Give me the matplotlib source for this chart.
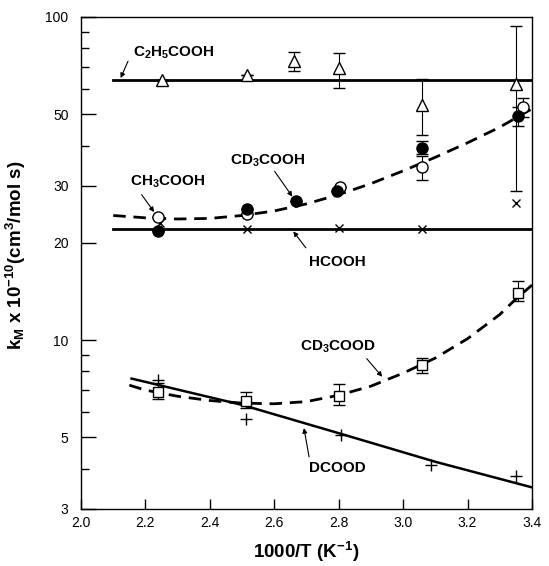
import matplotlib
matplotlib.use("Agg")
import matplotlib.pyplot as plt
from matplotlib.ticker import FixedLocator, NullFormatter, FixedFormatter

plt.rcParams['font.family'] = ['Liberation Sans', 'DejaVu Sans']
plt.rcParams['mathtext.fontset'] = 'custom'
plt.rcParams['mathtext.rm'] = 'Liberation Sans:bold'
plt.rcParams['mathtext.bf'] = 'Liberation Sans:bold'
plt.rcParams['mathtext.default'] = 'regular'

# ---- data ----
# C2H5COOH (open triangles)
c2_x = [2.25, 2.516, 2.662, 2.80, 3.057, 3.351]
c2_y = [64.0, 66.1, 73.0, 69.5, 53.5, 62.0]
c2_lo = [0, 0, 5.0, 9.3, 10.5, 33.1]
c2_hi = [0, 0, 4.9, 7.8, 11.0, 31.8]
c2_fit_x = [2.1, 3.4]
c2_fit_y = [63.7, 63.7]

# CH3COOH (open circles)
ch3_x = [2.24, 2.516, 2.805, 3.06, 3.373]
ch3_y = [24.1, 24.5, 29.7, 34.3, 52.6]
ch3_lo = [0, 0, 0, 2.9, 3.5]
ch3_hi = [0, 0, 0, 2.8, 3.4]

# CD3COOH (filled circles)
cd3h_x = [2.24, 2.516, 2.668, 2.796, 3.059, 3.358]
cd3h_y = [21.7, 25.5, 26.9, 28.9, 39.3, 49.4]
cd3h_lo = [0, 0, 0, 0, 1.5, 3.4]
cd3h_hi = [0, 0, 0, 0, 2.0, 3.4]

# dashed fit through CH3COOH / CD3COOH
acid_fit_x = [2.1, 2.2, 2.3, 2.4, 2.5, 2.6, 2.7, 2.8, 2.9, 3.0, 3.1, 3.2, 3.3, 3.4]
acid_fit_y = [24.3, 23.9, 23.7, 23.8, 24.3, 25.1, 26.4, 28.2, 30.5, 33.4, 36.8, 40.8, 45.6, 52.0]

# HCOOH (x markers)
hc_x = [2.245, 2.516, 2.80, 3.06, 3.35]
hc_y = [23.0, 22.1, 22.2, 22.0, 26.5]
hc_fit_x = [2.1, 3.4]
hc_fit_y = [22.1, 22.1]

# CD3COOD (open squares)
cdd_x = [2.24, 2.513, 2.80, 3.06, 3.357]
cdd_y = [6.9, 6.46, 6.7, 8.38, 14.0]
cdd_lo = [0.33, 0.31, 0.4, 0.48, 0.8]
cdd_hi = [0.45, 0.44, 0.6, 0.42, 1.2]
cdd_fit_x = [2.15, 2.2, 2.3, 2.4, 2.5, 2.6, 2.7, 2.8, 2.9, 3.0, 3.1, 3.2, 3.3, 3.35, 3.4]
cdd_fit_y = [7.25, 7.0, 6.7, 6.5, 6.38, 6.35, 6.45, 6.75, 7.2, 7.9, 8.8, 10.1, 12.0, 13.4, 14.8]

# DCOOD (plus markers)
dd_x = [2.24, 2.513, 2.806, 3.086, 3.35]
dd_y = [7.5, 5.7, 5.1, 4.1, 3.8]
dd_fit_x = [2.157, 2.5, 2.8, 3.1, 3.4]
dd_fit_y = [7.6, 6.3, 5.15, 4.2, 3.5]

y_major = [3, 5, 10, 20, 30, 50, 100]
y_minor = [4, 6, 7, 8, 9, 40, 60, 70, 80, 90]
x_ticks = [2.0, 2.2, 2.4, 2.6, 2.8, 3.0, 3.2, 3.4]

# ---- figure ----
fig = plt.figure(figsize=(5.49, 5.66), dpi=100)
ax = fig.add_axes([81 / 549, 1 - 509 / 566, (532 - 81) / 549, (509 - 17) / 566])
ax.set_yscale('log')
ax.set_xlim(2.0, 3.4)
ax.set_ylim(3, 100)

k = 'black'
# fit lines
ax.plot(c2_fit_x, c2_fit_y, '-', color=k, lw=2.0)
ax.plot(hc_fit_x, hc_fit_y, '-', color=k, lw=2.0)
ax.plot(acid_fit_x, acid_fit_y, '--', color=k, lw=2.0, dashes=(4.5, 2.8))
ax.plot(cdd_fit_x, cdd_fit_y, '--', color=k, lw=2.0, dashes=(4.5, 2.8))
ax.plot(dd_fit_x, dd_fit_y, '-', color=k, lw=1.8)

eb = dict(ecolor=k, elinewidth=0.8, capsize=4, capthick=0.8, ls='none')
ax.errorbar(c2_x, c2_y, yerr=[c2_lo, c2_hi], marker='^', ms=8, mfc='white', mec=k, mew=1.0, **eb)
ax.errorbar(ch3_x, ch3_y, yerr=[ch3_lo, ch3_hi], marker='o', ms=8, mfc='white', mec=k, mew=1.0, **eb)
ax.errorbar(cd3h_x, cd3h_y, yerr=[cd3h_lo, cd3h_hi], marker='o', ms=8, mfc=k, mec=k, mew=1.0, **eb)
ax.plot(hc_x, hc_y, 'x', color=k, ms=6, mew=1.0)
ax.errorbar(cdd_x, cdd_y, yerr=[cdd_lo, cdd_hi], marker='s', ms=7, mfc='white', mec=k, mew=1.0, **eb)
ax.plot(dd_x, dd_y, '+', color=k, ms=8, mew=1.0)

# ticks
ax.yaxis.set_major_locator(FixedLocator(y_major))
ax.yaxis.set_major_formatter(FixedFormatter([str(v) for v in y_major]))
ax.yaxis.set_minor_locator(FixedLocator(y_minor))
ax.yaxis.set_minor_formatter(NullFormatter())
ax.set_xticks(x_ticks)
ax.set_xticklabels([f"{v:.1f}" for v in x_ticks])
ax.tick_params(axis='y', which='major', direction='in', length=11, width=1.0, labelsize=10, pad=9)
ax.tick_params(axis='y', which='minor', direction='in', length=6, width=1.0)
ax.tick_params(axis='x', which='major', direction='in', length=7, width=1.0, labelsize=10, pad=5)
for s in ax.spines.values():
    s.set_linewidth(1.0)

ax.set_xlabel(r'1000/T (K$^{-1}$)', fontsize=13.5, fontweight='bold')
ax.xaxis.set_label_coords(0.5, -0.062)
ax.set_ylabel(r'k$_{M}$ x 10$^{-10}$(cm$^{3}$/mol s)', fontsize=13.5, fontweight='bold')
ax.yaxis.set_label_coords(-0.118, 0.515)

ap = dict(arrowstyle='-|>', color=k, lw=0.8, mutation_scale=7, shrinkA=0, shrinkB=0)
lab = dict(fontsize=11, fontweight='bold', va='center', ha='left')
ax.text(2.162, 77.3, r'C$_2$H$_5$COOH', **lab)
ax.annotate('', xy=(2.123, 64.7), xytext=(2.146, 73.0), arrowprops=ap)
ax.text(2.464, 36.0, r'CD$_3$COOH', **lab)
ax.annotate('', xy=(2.656, 27.8), xytext=(2.601, 33.3), arrowprops=ap)
ax.text(2.153, 31.0, r'CH$_3$COOH', **lab)
ax.annotate('', xy=(2.227, 24.9), xytext=(2.188, 28.2), arrowprops=ap)
ax.text(2.708, 17.5, 'HCOOH', **lab)
ax.annotate('', xy=(2.659, 21.7), xytext=(2.698, 19.3), arrowprops=ap)
ax.text(2.679, 9.56, r'CD$_3$COOD', **lab)
ax.annotate('', xy=(2.935, 7.7), xytext=(2.887, 8.76), arrowprops=ap)
ax.text(2.708, 4.01, 'DCOOD', **lab)
ax.annotate('', xy=(2.692, 5.34), xytext=(2.708, 4.35), arrowprops=ap)

fig.savefig('out.png', dpi=100)
